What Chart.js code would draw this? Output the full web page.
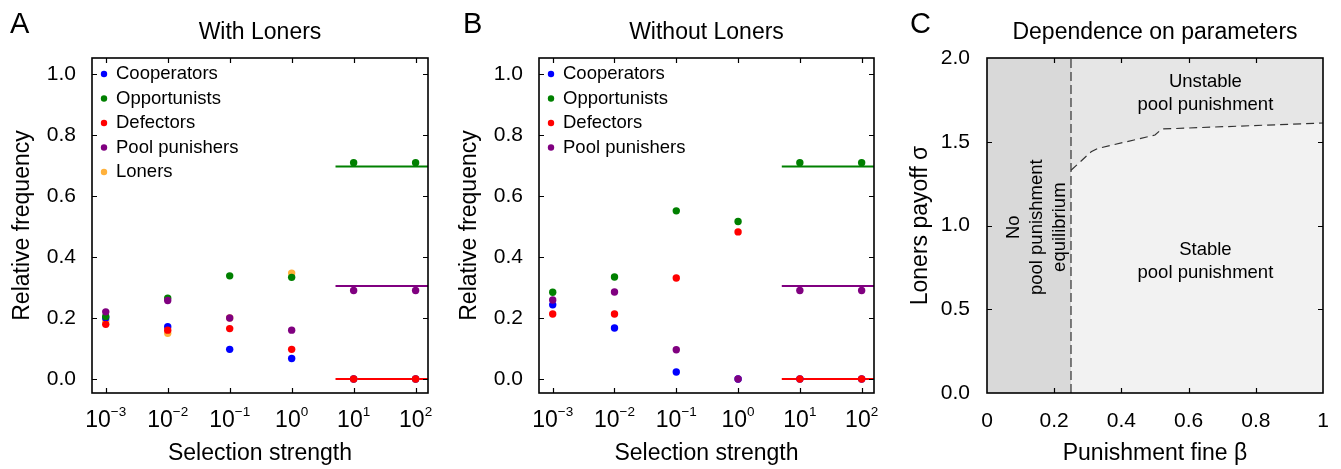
<!DOCTYPE html>
<html>
<head>
<meta charset="utf-8">
<script src="https://cdn.jsdelivr.net/npm/chart.js@4.4.1/dist/chart.umd.min.js"></script>
<style>
  body { margin: 0; background: #fff; width: 1341px; height: 469px; overflow: hidden; position: relative; }
  canvas { position: absolute; top: 0; }
</style>
</head>
<body>
<canvas id="chartA" width="447" height="469" style="left:0"></canvas>
<canvas id="chartB" width="448" height="469" style="left:447px"></canvas>
<canvas id="chartC" width="446" height="469" style="left:895px"></canvas>
<script>
// ---- data ----
const strengths = [1e-3, 1e-2, 1e-1, 1, 10, 100];
const freqTicks = [0, 0.2, 0.4, 0.6, 0.8, 1.0];

// A: with loners
const coopA = [0.200, 0.171, 0.097, 0.067, 0, 0];
const oppA  = [0.205, 0.265, 0.338, 0.333, 0.709, 0.709];
const defA  = [0.179, 0.160, 0.165, 0.097, 0, 0];
const poolA = [0.220, 0.257, 0.200, 0.160, 0.290, 0.290];
const lonA  = [0.190, 0.150, 0.200, 0.347, 0, 0];

// B: without loners
const coopB = [0.243, 0.167, 0.023, 0, 0, 0];
const oppB  = [0.284, 0.334, 0.551, 0.516, 0.709, 0.709];
const defB  = [0.213, 0.213, 0.331, 0.482, 0, 0];
const poolB = [0.259, 0.285, 0.096, 0, 0.290, 0.290];

// analytic levels for strong selection
const steadyOpp = 0.696;
const steadyPool = 0.305;
const steadyDef = 0;
const steadyFrom = 5.1;

// C: parameter dependence
const betaTicks = [0, 0.2, 0.4, 0.6, 0.8, 1];
const sigmaTicks = [0, 0.5, 1.0, 1.5, 2.0];
const betaThreshold = 0.25;
const boundaryBeta  = [0.25, 0.31, 0.33, 0.50, 0.52, 1.0];
const boundarySigma = [1.33, 1.44, 1.46, 1.54, 1.576, 1.612];

const strengthMin = Math.pow(10, -3.2);
const strengthMax = Math.pow(10, 2.2);

const BLUE = "#0000ff", GREEN = "#008000", RED = "#ff0000", PURPLE = "#800080", ORANGE = "#ffb13b";
const FONT = '"Liberation Sans", Arial, Helvetica, sans-serif';

Chart.defaults.font.family = FONT;
Chart.defaults.color = "#000";

// --- box frame with inward ticks + panel letter ---
const frame = {
  id: "frame",
  afterDatasetsDraw(chart, args, opts) {
    const { ctx, chartArea: a, scales: { x, y } } = chart;
    ctx.save();
    ctx.strokeStyle = "#000";
    ctx.lineWidth = 1.2;
    ctx.beginPath();
    (opts.xTicks || []).forEach((v) => {
      const px = Math.round(x.getPixelForValue(v)) + 0.5;
      ctx.moveTo(px, a.bottom); ctx.lineTo(px, a.bottom - 5);
      ctx.moveTo(px, a.top); ctx.lineTo(px, a.top + 5);
    });
    (opts.yTicks || []).forEach((v) => {
      const py = Math.round(y.getPixelForValue(v)) + 0.5;
      ctx.moveTo(a.left, py); ctx.lineTo(a.left + 5, py);
      ctx.moveTo(a.right, py); ctx.lineTo(a.right - 5, py);
    });
    ctx.stroke();
    ctx.lineWidth = 1.6;
    ctx.strokeRect(a.left, a.top, a.right - a.left, a.bottom - a.top);
    if (opts.letter) {
      ctx.fillStyle = "#000";
      ctx.font = "29px " + FONT;
      ctx.textBaseline = "alphabetic";
      ctx.textAlign = "left";
      ctx.fillText(opts.letter, opts.letterX, 33);
    }
    ctx.restore();
  },
};

// --- legend drawn inside the plot ---
const dotLegend = {
  id: "dotLegend",
  afterDatasetsDraw(chart, args, opts) {
    if (!opts.items) return;
    const { ctx, chartArea: a } = chart;
    ctx.save();
    ctx.font = "18.5px " + FONT;
    ctx.textBaseline = "middle";
    ctx.textAlign = "left";
    opts.items.forEach((it, i) => {
      const yy = a.top + 16 + i * 24.5;
      ctx.fillStyle = it.color;
      ctx.beginPath();
      ctx.arc(a.left + 12, yy, 3.2, 0, Math.PI * 2);
      ctx.fill();
      ctx.fillStyle = "#000";
      ctx.fillText(it.label, a.left + 24, yy);
    });
    ctx.restore();
  },
};

// --- 10^n tick labels ---
const powLabels = {
  id: "powLabels",
  afterDraw(chart, args, opts) {
    if (!opts.values) return;
    const { ctx, chartArea: a, scales: { x } } = chart;
    const base = a.bottom + 34;
    ctx.save();
    ctx.fillStyle = "#000";
    ctx.textBaseline = "alphabetic";
    ctx.textAlign = "left";
    opts.values.forEach((v) => {
      const e = Math.round(Math.log10(v));
      const exp = e < 0 ? "\u2212" + Math.abs(e) : String(e);
      ctx.font = "23px " + FONT;
      const w1 = ctx.measureText("10").width;
      ctx.font = "13.5px " + FONT;
      const w2 = ctx.measureText(exp).width;
      const start = x.getPixelForValue(v) - (w1 + w2) / 2;
      ctx.font = "23px " + FONT;
      ctx.fillText("10", start, base);
      ctx.font = "13.5px " + FONT;
      ctx.fillText(exp, start + w1, base - 11.5);
    });
    ctx.restore();
  },
};

// --- region labels in panel C ---
const regionText = {
  id: "regionText",
  afterDatasetsDraw(chart, args, opts) {
    if (!opts.labels) return;
    const { ctx, scales: { x, y } } = chart;
    ctx.save();
    ctx.fillStyle = "#000";
    ctx.font = "18.5px " + FONT;
    ctx.textAlign = "center";
    ctx.textBaseline = "middle";
    opts.labels.forEach((l) => {
      const cx = x.getPixelForValue(l.x);
      const cy = y.getPixelForValue(l.y);
      ctx.save();
      ctx.translate(cx, cy);
      if (l.rotate) ctx.rotate(-Math.PI / 2);
      const n = l.lines.length;
      l.lines.forEach((t, i) => {
        ctx.fillText(t, 0, (i - (n - 1) / 2) * 23 + (l.rotate ? 0 : (n - 1) / 2 * 23));
      });
      ctx.restore();
    });
    ctx.restore();
  },
};

function freqChart(id, title, letter, letterX, rows, rightPad) {
  const datasets = rows.map(([label, vals, color, order]) => ({
    type: "scatter",
    label,
    order,
    data: strengths.map((s, i) => ({ x: s, y: vals[i] })),
    backgroundColor: color,
    borderColor: color,
    borderWidth: 0,
    pointRadius: 3.7,
  }));
  [[steadyOpp, GREEN], [steadyPool, PURPLE], [steadyDef, RED]].forEach(([lvl, color]) => {
    datasets.push({
      type: "line",
      showLine: true,
      order: 10,
      data: [{ x: steadyFrom, y: lvl }, { x: strengthMax, y: lvl }],
      borderColor: color,
      borderWidth: 2,
      pointRadius: 0,
      fill: false,
    });
  });

  return new Chart(document.getElementById(id), {
    type: "scatter",
    data: { datasets },
    options: {
      responsive: false,
      animation: false,
      events: [],
      layout: { padding: { left: 0, right: rightPad, top: 0, bottom: 0 } },
      scales: {
        x: {
          type: "logarithmic",
          min: strengthMin,
          max: strengthMax,
          grid: { display: false },
          border: { display: false },
          ticks: { display: false },
          afterBuildTicks: (s) => { s.ticks = strengths.map((v) => ({ value: v })); },
          afterFit: (s) => { s.height = 76; },
          title: { display: true, text: "Selection strength", font: { size: 23 }, padding: { top: 0, bottom: 2 } },
        },
        y: {
          min: -0.046,
          max: 1.052,
          grid: { display: false },
          border: { display: false },
          ticks: { padding: 8, font: { size: 21 }, callback: (v) => v.toFixed(1) },
          afterBuildTicks: (s) => { s.ticks = freqTicks.map((v) => ({ value: v })); },
          afterFit: (s) => { s.width = 92; },
          title: { display: true, text: "Relative frequency", font: { size: 23 }, padding: { top: 9 } },
        },
      },
      plugins: {
        legend: { display: false },
        tooltip: { enabled: false },
        title: {
          display: true, text: title, fullSize: false,
          font: { size: 23, weight: "normal" }, color: "#000",
          padding: { top: 19, bottom: 11.4 },
        },
        frame: { xTicks: strengths, yTicks: freqTicks, letter, letterX },
        dotLegend: { items: rows.map((r) => ({ label: r[0], color: r[2] })) },
        powLabels: { values: strengths },
      },
    },
    plugins: [frame, dotLegend, powLabels],
  });
}

freqChart("chartA", "With Loners", "A", 10, [
  ["Cooperators", coopA, BLUE, 3],
  ["Opportunists", oppA, GREEN, 2],
  ["Defectors", defA, RED, 1],
  ["Pool punishers", poolA, PURPLE, 0],
  ["Loners", lonA, ORANGE, 4],
], 19);

freqChart("chartB", "Without Loners", "B", 16, [
  ["Cooperators", coopB, BLUE, 3],
  ["Opportunists", oppB, GREEN, 2],
  ["Defectors", defB, RED, 1],
  ["Pool punishers", poolB, PURPLE, 0],
], 21);

// ---- panel C ----
new Chart(document.getElementById("chartC"), {
  type: "scatter",
  data: {
    datasets: [
      { // stable region below the boundary
        type: "line", showLine: true, order: 1,
        data: boundaryBeta.map((b, i) => ({ x: b, y: boundarySigma[i] })),
        fill: "origin", backgroundColor: "#f2f2f2",
        borderColor: "#333", borderWidth: 1.2, borderDash: [8, 5], pointRadius: 0,
      },
      { // unstable region
        type: "line", showLine: true, order: 2,
        data: [{ x: betaThreshold, y: 2 }, { x: 1, y: 2 }],
        fill: "origin", backgroundColor: "#e6e6e6",
        borderColor: "rgba(0,0,0,0)", borderWidth: 1, pointRadius: 0,
      },
      { // no equilibrium
        type: "line", showLine: true, order: 3,
        data: [{ x: 0, y: 2 }, { x: betaThreshold, y: 2 }],
        fill: "origin", backgroundColor: "#d9d9d9",
        borderColor: "rgba(0,0,0,0)", borderWidth: 1, pointRadius: 0,
      },
      { // threshold
        type: "line", showLine: true, order: 0,
        data: [{ x: betaThreshold, y: 0 }, { x: betaThreshold, y: 2 }],
        fill: false, borderColor: "#333", borderWidth: 1.2, borderDash: [9, 4], pointRadius: 0,
      },
    ],
  },
  options: {
    responsive: false,
    animation: false,
    events: [],
    layout: { padding: { left: 0, right: 18, top: 0, bottom: 0 } },
    scales: {
      x: {
        type: "linear", min: 0, max: 1,
        grid: { display: false },
        border: { display: false },
        ticks: { padding: 8, font: { size: 21 }, maxRotation: 0, callback: (v) => String(v) },
        afterBuildTicks: (s) => { s.ticks = betaTicks.map((v) => ({ value: v })); },
        afterFit: (s) => { s.height = 76; },
        title: { display: true, text: "Punishment fine \u03b2", font: { size: 23 }, padding: { top: 0, bottom: 2 } },
      },
      y: {
        min: 0, max: 2,
        grid: { display: false },
        border: { display: false },
        ticks: { padding: 9, font: { size: 21 }, callback: (v) => v.toFixed(1) },
        afterBuildTicks: (s) => { s.ticks = sigmaTicks.map((v) => ({ value: v })); },
        afterFit: (s) => { s.width = 92; },
        title: { display: true, text: "Loners payoff \u03c3", font: { size: 23 }, padding: { top: 12 } },
      },
    },
    plugins: {
      legend: { display: false },
      tooltip: { enabled: false },
      title: {
        display: true, text: "Dependence on parameters", fullSize: false,
        font: { size: 23, weight: "normal" }, color: "#000",
        padding: { top: 19, bottom: 11.4 },
      },
      frame: { xTicks: [0.2, 0.4, 0.6, 0.8], yTicks: [0.5, 1.0, 1.5], letter: "C", letterX: 15 },
      regionText: {
        labels: [
          { lines: ["Unstable", "pool punishment"], x: 0.65, y: 1.86 },
          { lines: ["Stable", "pool punishment"], x: 0.65, y: 0.855 },
          { lines: ["No", "pool punishment", "equilibrium"], x: 0.148, y: 0.99, rotate: true },
        ],
      },
    },
  },
  plugins: [frame, regionText],
});
</script>
</body>
</html>
